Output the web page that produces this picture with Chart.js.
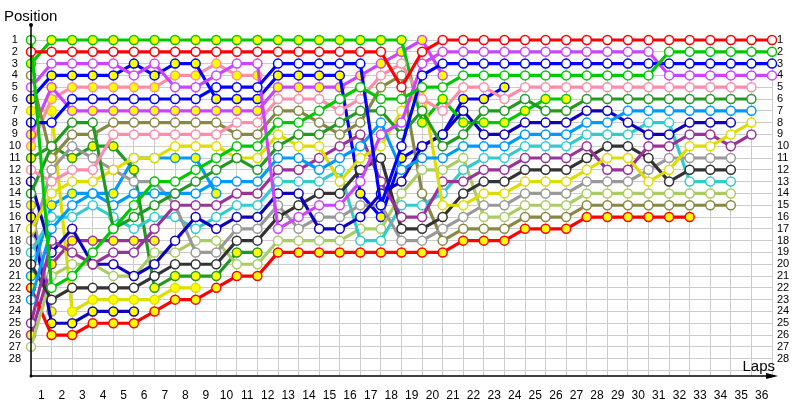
<!DOCTYPE html>
<html>
<head>
<meta charset="utf-8">
<script src="https://cdn.jsdelivr.net/npm/chart.js@4.4.1/dist/chart.umd.min.js"></script>
<style>
  html, body { margin: 0; padding: 0; background: #fff; }
</style>
</head>
<body>
<canvas id="lapChart" width="800" height="400"></canvas>
<script>
// Tick labels
const lapLabels = ['1','2','3','4','5','6','7','8','9','10','11','12','13','14','15','16','17','18',
  '19','20','21','22','23','24','25','26','27','28','29','30','31','32','33','34','35','36'];

// Position of each car per lap (index 0 = grid)
const redA    = [2,2,2,2,2,2,2,2,2,2,2,2,2,2,2,2,2,2,5,2,1,1,1,1,1,1,1,1,1,1,1,1,1,1,1,1,1];
const greenA  = [1,22,21,19,17,15,13,13,12,11,10,10,8,8,7,6,5,6,6,5,5,4,4,4,4,4,4,4,4,4,4,2,2,2,2,2,2];
const blueA   = [8,8,6,6,6,6,6,6,6,5,5,5,3,3,3,3,3,15,10,4,3,3,3,3,3,3,3,3,3,3,3,3,3,3,3,3,3];
const violetA = [5,3,3,3,3,4,3,5,5,4,3,3,17,16,15,15,13,9,8,3,2,2,2,2,2,2,2,2,2,2,2,4,4,4,4,4,4];
const pinkA   = [12,13,12,12,9,9,9,9,9,9,8,8,6,6,6,7,6,4,3,6,7,5,5,6,5,5,5,5,5,5,5,5,5,5,5,5];
const dkgreenA= [14,10,8,8,17,16,15,14,13,12,11,12,10,9,9,8,7,7,9,7,10,9,7,7,6,7,7,6,6,6,6,6,6,6,6,6];
const azureA  = [23,17,15,14,15,14,14,14,14,13,13,13,11,11,12,11,10,8,12,11,11,10,10,10,9,9,9,8,8,7,7,7,7,7,7,7];
const yellowA = [17,14,13,13,12,11,11,10,10,10,11,11,9,10,10,13,11,10,7,5,15,15,14,14,13,13,13,12,11,11,13,12,10,10,9,8];
const purpleA = [25,18,19,20,19,19,17,15,15,15,14,14,12,12,11,10,9,13,16,16,13,13,12,12,11,11,11,10,12,12,10,10,9,9,10,9];
const navyA   = [13,19,17,20,20,21,20,18,16,17,16,16,14,14,17,17,16,14,13,10,9,7,9,9,8,8,8,7,7,8,9,9,8,8,8];
const blackA  = [20,23,22,22,22,22,21,20,20,20,18,18,16,15,14,14,12,11,17,17,16,14,13,13,12,12,12,11,10,10,11,13,12,12,12];
const grayA   = [18,12,10,11,12,13,13,15,19,19,17,17,15,17,16,16,15,15,18,18,17,16,15,15,14,14,14,13,13,13,12,11,11,11,11];
const cyanA   = [19,16,16,15,16,17,16,16,17,16,15,15,13,13,13,12,18,18,15,15,14,12,11,11,10,10,10,9,9,9,8,8,13,13,13];
const limeA   = [27,21,20,20,21,21,19,19,18,18,20,20,18,18,18,18,17,17,14,12,12,11,16,16,15,15,15,14,14,14,14,14,14,14,14];
const oliveA  = [4,11,9,9,8,8,8,8,8,8,9,9,7,7,8,9,8,5,4,14,18,17,17,17,16,16,16,15,15,15,15,15,15,15,15];
const redB    = [22,26,26,25,25,25,24,23,23,22,21,21,19,19,19,19,19,19,19,19,19,18,18,18,17,17,17,16,16,16,16,16,16];
const greenB  = [3,1,1,1,1,1,1,1,1,1,1,1,1,1,1,1,1,1,1,8,6,8,8,8,7,6,6];
const blueB   = [6,4,4,4,4,3,4,3,3,6,6,6,4,4,4,4,14,16,11,10,9,6,6,5];
const violetB = [9,5,7,7,7,7,7,7,7,7,7,7,5,5,5,5,4,3,2,1,4];
const pinkB   = [10,6,5,5,5,5,5,4,4,3,4,4];
const dkgreenB= [11,10,11,10,10,12,22,21,21,21,19,19];
const yellowB = [7,7,24,23,23,23,23,22,22];
const azureB  = [21,15,14,14,14,11,11,11,11,14];
const purpleB = [26,20,18,18,18,18,18];
const navyB   = [16,25,25,24,24,24];
const grayB   = [15,24];

const WHITE = '#ffffff', YEL = '#ffff00';
const cars = [
  { pos: redA,     color: '#ff0000', fill: WHITE },
  { pos: greenA,   color: '#00c800', fill: WHITE },
  { pos: blueA,    color: '#0000ff', fill: WHITE },
  { pos: violetA,  color: '#cc44ff', fill: WHITE },
  { pos: pinkA,    color: '#ff8caa', fill: WHITE },
  { pos: dkgreenA, color: '#229922', fill: WHITE },
  { pos: azureA,   color: '#0099ff', fill: WHITE },
  { pos: yellowA,  color: '#dddd00', fill: WHITE },
  { pos: purpleA,  color: '#993399', fill: WHITE },
  { pos: navyA,    color: '#1100bb', fill: WHITE },
  { pos: blackA,   color: '#333333', fill: WHITE },
  { pos: grayA,    color: '#999999', fill: WHITE },
  { pos: cyanA,    color: '#33cccc', fill: WHITE },
  { pos: limeA,    color: '#aacc66', fill: WHITE },
  { pos: oliveA,   color: '#888844', fill: WHITE },
  { pos: redB,     color: '#ff0000', fill: YEL },
  { pos: greenB,   color: '#00c800', fill: YEL },
  { pos: blueB,    color: '#0000ff', fill: YEL },
  { pos: violetB,  color: '#cc44ff', fill: YEL },
  { pos: pinkB,    color: '#ff8caa', fill: YEL },
  { pos: dkgreenB, color: '#229922', fill: YEL },
  { pos: yellowB,  color: '#dddd00', fill: YEL },
  { pos: azureB,   color: '#0099ff', fill: YEL },
  { pos: purpleB,  color: '#993399', fill: YEL },
  { pos: navyB,    color: '#1100bb', fill: YEL },
  { pos: grayB,    color: '#999999', fill: YEL },
];

const FONT = '"Liberation Sans", Arial, sans-serif';

// axes with arrows + titles
const decor = {
  id: 'decor',
  afterDraw(c) {
    const { ctx, chartArea: a } = c;
    ctx.save();
    ctx.strokeStyle = '#000';
    ctx.fillStyle = '#000';
    ctx.lineWidth = 1.5;
    ctx.beginPath();
    ctx.moveTo(a.left, a.bottom);
    ctx.lineTo(a.left, 25);
    ctx.moveTo(a.left, a.bottom);
    ctx.lineTo(a.right + 3, a.bottom);
    ctx.stroke();
    ctx.beginPath();
    ctx.arc(a.left, 25, 2, 0, Math.PI * 2);
    ctx.arc(a.left, a.bottom, 1.5, 0, Math.PI * 2);
    ctx.fill();
    ctx.beginPath();
    ctx.moveTo(a.right + 6, a.bottom);
    ctx.lineTo(a.right - 6, a.bottom - 3);
    ctx.lineTo(a.right - 6, a.bottom + 3);
    ctx.closePath();
    ctx.fill();
    ctx.font = '15px ' + FONT;
    ctx.textBaseline = 'alphabetic';
    ctx.textAlign = 'left';
    ctx.fillText('Position', 4, 21);
    ctx.textAlign = 'right';
    ctx.fillText('Laps', a.right + 3, 371);
    ctx.restore();
  }
};

const yTicks = {
  stepSize: 1,
  includeBounds: false,
  autoSkip: false,
  color: '#000',
  font: { family: FONT, size: 11 },
  callback: v => (v >= 1 && v <= 28 ? v : '')
};

new Chart(document.getElementById('lapChart'), {
  type: 'line',
  data: {
    datasets: cars.map(c => ({
      data: c.pos.map((p, i) => ({ x: i, y: p })),
      borderColor: c.color,
      pointBorderColor: c.color,
      pointBackgroundColor: c.fill,
      clip: false
    }))
  },
  options: {
    responsive: false,
    animation: false,
    layout: { padding: { top: 40, left: 0, right: 0, bottom: 0 } },
    plugins: { legend: { display: false }, tooltip: { enabled: false } },
    elements: {
      line: { borderWidth: 3.2, tension: 0 },
      point: { radius: 4.5, borderWidth: 1.5 }
    },
    scales: {
      x: {
        type: 'linear', min: 0, max: 36,
        ticks: { stepSize: 1, display: false },
        grid: { color: '#cccccc', drawTicks: false },
        border: { display: false },
        afterFit: s => { s.height = 0; }
      },
      xl: {
        type: 'category', labels: lapLabels, offset: true, position: 'bottom',
        grid: { display: false }, border: { display: false },
        ticks: { color: '#000', font: { family: FONT, size: 12 }, padding: 4, autoSkip: false, maxRotation: 0 },
        afterFit: s => { s.height = 24; }
      },
      y: {
        reverse: true, min: 1, max: 29.47,
        ticks: { ...yTicks, crossAlign: 'center', padding: 10 },
        grid: { color: c => (c.tick && c.tick.value >= 1 ? '#cccccc' : 'rgba(0,0,0,0)'), drawTicks: false },
        border: { display: false },
        afterFit: s => { s.width = 31; }
      },
      y2: {
        position: 'right', reverse: true, min: 1, max: 29.47,
        ticks: { ...yTicks, padding: 5 },
        grid: { display: false, drawTicks: false }, border: { display: false },
        afterFit: s => { s.width = 28; }
      }
    }
  },
  plugins: [decor]
});
</script>
</body>
</html>
